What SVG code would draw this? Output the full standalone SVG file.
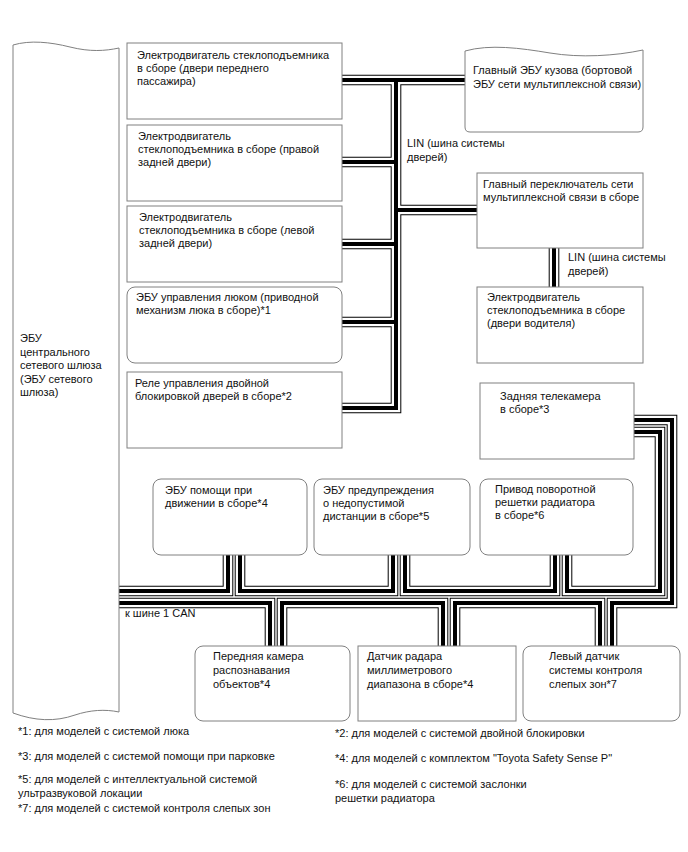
<svg xmlns="http://www.w3.org/2000/svg" xmlns:xlink="http://www.w3.org/1999/xlink" width="688" height="852" viewBox="0 0 688 852">
<style>
  .bx{fill:#fff;stroke:#808080;stroke-width:1}
  text{font-family:"Liberation Sans",Arial,sans-serif;font-size:11px;fill:#111}
  .o{fill:none;stroke:#000;stroke-width:10.6;stroke-linejoin:miter}
  .w{fill:none;stroke:#fff;stroke-width:8.6;stroke-linejoin:miter}
  .c{fill:none;stroke:#000;stroke-width:4;stroke-linejoin:miter}
</style>
<defs>
  <path id="c1" d="M119,591 H228 V555"/>
  <path id="c2" d="M240,555 V591 H393 V555"/>
  <path id="c3" d="M405,555 V591 H555 V555"/>
  <path id="c4" d="M567,555 V591 H660 V432 H634"/>
  <path id="c5" d="M634,420 H672 V603 H612 V646"/>
  <path id="c6" d="M600,646 V603 H455 V646"/>
  <path id="c7" d="M443,646 V603 H282 V646"/>
  <path id="c8" d="M270,646 V603 H119"/>
  <path id="lin" d="M342,80 H465 M396,80 V408 H342 M342,162 H396 M342,244 H396 M342,322 H396 M396,210 H477"/>
  <path id="lin2" d="M554,248 V287"/>
</defs>

<rect width="688" height="852" fill="#fff"/>

<g id="connectors">
  <use xlink:href="#lin" class="o"/><use xlink:href="#lin" class="w"/><use xlink:href="#lin" class="c"/>
  <use xlink:href="#lin2" class="o"/><use xlink:href="#lin2" class="w"/><use xlink:href="#lin2" class="c"/>
  <use xlink:href="#c1" class="o"/><use xlink:href="#c1" class="w"/><use xlink:href="#c1" class="c"/>
  <use xlink:href="#c2" class="o"/><use xlink:href="#c2" class="w"/><use xlink:href="#c2" class="c"/>
  <use xlink:href="#c3" class="o"/><use xlink:href="#c3" class="w"/><use xlink:href="#c3" class="c"/>
  <use xlink:href="#c4" class="o"/><use xlink:href="#c4" class="w"/><use xlink:href="#c4" class="c"/>
  <use xlink:href="#c5" class="o"/><use xlink:href="#c5" class="w"/><use xlink:href="#c5" class="c"/>
  <use xlink:href="#c6" class="o"/><use xlink:href="#c6" class="w"/><use xlink:href="#c6" class="c"/>
  <use xlink:href="#c7" class="o"/><use xlink:href="#c7" class="w"/><use xlink:href="#c7" class="c"/>
  <use xlink:href="#c8" class="o"/><use xlink:href="#c8" class="w"/><use xlink:href="#c8" class="c"/>
  <text x="407" y="147">LIN (шина системы</text>
  <text x="407" y="161">дверей)</text>
  <text x="568" y="261">LIN (шина системы</text>
  <text x="568" y="275">дверей)</text>
  <text x="125" y="617">к шине 1 CAN</text>
</g>

<g id="gateway">
  <path class="bx" d="M13,45 C30,40 50,42 70,47 C90,52 105,51 119,48 V712 C105,709 90,710 75,715 C55,722 35,721 13,713 Z"/>
  <text x="20" y="342">ЭБУ</text>
  <text x="20" y="355.5">центрального</text>
  <text x="20" y="369">сетевого шлюза</text>
  <text x="20" y="382.5">(ЭБУ сетевого</text>
  <text x="20" y="396">шлюза)</text>
</g>

<g id="n_front_pass">
  <rect class="bx" x="127" y="43" width="215" height="76"/>
  <text x="137" y="59">Электродвигатель стеклоподъемника</text>
  <text x="137" y="72">в сборе (двери переднего</text>
  <text x="137" y="85">пассажира)</text>
</g>
<g id="n_rr">
  <rect class="bx" x="127" y="125" width="215" height="76"/>
  <text x="138" y="140">Электродвигатель</text>
  <text x="138" y="153">стеклоподъемника в сборе (правой</text>
  <text x="138" y="166">задней двери)</text>
</g>
<g id="n_rl">
  <rect class="bx" x="127" y="206" width="215" height="76"/>
  <text x="139" y="221">Электродвигатель</text>
  <text x="139" y="234">стеклоподъемника в сборе (левой</text>
  <text x="139" y="247">задней двери)</text>
</g>
<g id="n_sunroof">
  <rect class="bx" x="127" y="287" width="215" height="76" rx="8"/>
  <text x="136" y="301">ЭБУ управления люком (приводной</text>
  <text x="136" y="314">механизм люка в сборе)*1</text>
</g>
<g id="n_dlock">
  <rect class="bx" x="127" y="372" width="215" height="76"/>
  <text x="135" y="387">Реле управления двойной</text>
  <text x="135" y="400">блокировкой дверей в сборе*2</text>
</g>

<g id="n_body">
  <path class="bx" d="M465,51 C490,44 520,48 550,53 C580,58 615,56 643,50 V127 Q643,132 638,132 H470 Q465,132 465,127 Z"/>
  <text x="473" y="74">Главный ЭБУ кузова (бортовой</text>
  <text x="473" y="88">ЭБУ сети мультиплексной связи)</text>
</g>
<g id="n_master">
  <rect class="bx" x="477" y="173" width="166" height="75"/>
  <text x="483" y="188">Главный переключатель сети</text>
  <text x="483" y="201">мультиплексной связи в сборе</text>
</g>
<g id="n_driver">
  <rect class="bx" x="477" y="287" width="166" height="76"/>
  <text x="487" y="301">Электродвигатель</text>
  <text x="487" y="314">стеклоподъемника в сборе</text>
  <text x="487" y="327">(двери водителя)</text>
</g>
<g id="n_rearcam">
  <rect class="bx" x="480" y="383" width="154" height="76"/>
  <text x="500" y="400">Задняя телекамера</text>
  <text x="500" y="413">в сборе*3</text>
</g>

<g id="n_drive_assist">
  <rect class="bx" x="153" y="479" width="154" height="76" rx="8"/>
  <text x="165" y="494">ЭБУ помощи при</text>
  <text x="165" y="507">движении в сборе*4</text>
</g>
<g id="n_clearance">
  <rect class="bx" x="314" y="479" width="156" height="76" rx="8"/>
  <text x="323" y="494">ЭБУ предупреждения</text>
  <text x="323" y="507">о недопустимой</text>
  <text x="323" y="520">дистанции в сборе*5</text>
</g>
<g id="n_grille">
  <rect class="bx" x="480" y="479" width="153" height="76" rx="8"/>
  <text x="495" y="493">Привод поворотной</text>
  <text x="495" y="506">решетки радиатора</text>
  <text x="495" y="519">в сборе*6</text>
</g>

<g id="n_frontcam">
  <rect class="bx" x="195" y="646" width="155" height="75" rx="8"/>
  <text x="213" y="660">Передняя камера</text>
  <text x="213" y="674">распознавания</text>
  <text x="213" y="688">объектов*4</text>
</g>
<g id="n_radar">
  <rect class="bx" x="358" y="646" width="158" height="75"/>
  <text x="367" y="660">Датчик радара</text>
  <text x="367" y="674">миллиметрового</text>
  <text x="367" y="688">диапазона в сборе*4</text>
</g>
<g id="n_bsm">
  <rect class="bx" x="523" y="646" width="157" height="75" rx="8"/>
  <text x="549" y="660">Левый датчик</text>
  <text x="549" y="674">системы контроля</text>
  <text x="549" y="688">слепых зон*7</text>
</g>

<g id="notes">
  <text x="18" y="735">*1: для моделей с системой люка</text>
  <text x="335" y="737">*2: для моделей с системой двойной блокировки</text>
  <text x="18" y="760">*3: для моделей с системой помощи при парковке</text>
  <text x="335" y="762">*4: для моделей с комплектом "Toyota Safety Sense P"</text>
  <text x="18" y="783">*5: для моделей с интеллектуальной системой</text>
  <text x="18" y="797">ультразвуковой локации</text>
  <text x="335" y="788">*6: для моделей с системой заслонки</text>
  <text x="335" y="802">решетки радиатора</text>
  <text x="18" y="812">*7: для моделей с системой контроля слепых зон</text>
</g>
</svg>
